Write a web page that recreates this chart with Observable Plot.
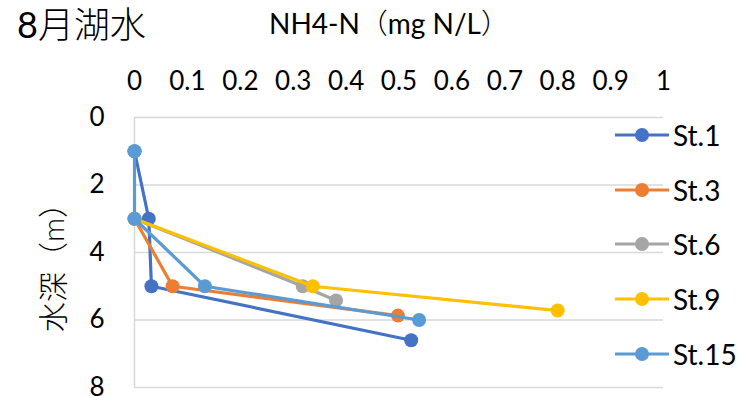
<!DOCTYPE html>
<html>
<head>
<meta charset="utf-8">
<script src="https://cdn.jsdelivr.net/npm/d3@7"></script>
<script src="https://cdn.jsdelivr.net/npm/@observablehq/plot@0.6"></script>
<style>
  html, body { margin: 0; padding: 0; background: #fff; }
  #chart { position: relative; width: 749px; height: 396px; overflow: hidden;
           font-family: Lato, "Noto Sans CJK JP", sans-serif; color: #000; }
  #chart svg { position: absolute; left: 0; top: 0; }
  .title { position: absolute; left: 17px; top: 6px; font-size: 36px; font-weight: 300; line-height: 1; white-space: nowrap; }
  .title .num { font-weight: 400; }
  .xlabel { position: absolute; left: 389px; top: 9px; transform: translateX(-50%); font-size: 28px; font-weight: 400; line-height: 1; white-space: nowrap; }
  .xlabel .cjk { font-weight: 300; }
  .ylabel { position: absolute; left: 52px; top: 260px; transform: translate(-50%, -50%) rotate(-90deg); font-size: 30px; font-weight: 300; line-height: 1; white-space: nowrap; }
  .legend { position: absolute; left: 614px; top: 0; }
  .legend .item { position: absolute; left: 0; height: 30px; display: flex; align-items: center; white-space: nowrap; font-size: 28px; }
  .legend svg { position: static !important; margin-right: 3px; }
</style>
</head>
<body>
<div id="chart">
  <div class="title"><span class="num">8</span>月湖水</div>
  <div class="xlabel">NH4-N<span class="cjk">（</span>mg N/L<span class="cjk">）</span></div>
  <div class="ylabel">水深（m）</div>
  <div class="legend" id="legend"></div>
</div>
<script>
// NH4-N concentration (mg N/L) by water depth (m) at each station
const stations = ["St.1", "St.3", "St.6", "St.9", "St.15"];
const colors = ["#4472C4", "#ED7D31", "#A5A5A5", "#FFC000", "#5B9BD5"];

const st1Depth = [1, 3, 5, 6.6];
const st1Value = [0, 0.027, 0.032, 0.523];
const st3Depth = [3, 5, 5.87];
const st3Value = [0, 0.072, 0.498];
const st6Depth = [3, 5, 5.42];
const st6Value = [0, 0.318, 0.381];
const st9Depth = [3, 5, 5.72];
const st9Value = [0, 0.337, 0.80];
const st15Depth = [1, 3, 5, 6.0];
const st15Value = [0, 0, 0.133, 0.538];

const xTicks = [0, 0.1, 0.2, 0.3, 0.4, 0.5, 0.6, 0.7, 0.8, 0.9, 1];
const xTickLabels = ["0", "0.1", "0.2", "0.3", "0.4", "0.5", "0.6", "0.7", "0.8", "0.9", "1"];
const yTicks = [0, 2, 4, 6, 8];

const depthSets = [st1Depth, st3Depth, st6Depth, st9Depth, st15Depth];
const valueSets = [st1Value, st3Value, st6Value, st9Value, st15Value];

const series = stations.map((name, i) => ({
  name,
  color: colors[i],
  rows: depthSets[i].map((d, j) => ({depth: d, value: valueSets[i][j]}))
}));

const gridColor = "#d9d9d9";

// each station: its line first, then its markers, drawn in station order
const seriesMarks = series.flatMap(s => [
  Plot.line(s.rows, {x: "value", y: "depth", stroke: s.color, strokeWidth: 3.2}),
  Plot.dot(s.rows, {x: "value", y: "depth", r: 7, fill: s.color, stroke: "none"})
]);

const chart = Plot.plot({
  width: 749,
  height: 396,
  marginLeft: 134,
  marginRight: 86,
  marginTop: 117,
  marginBottom: 9,
  style: {
    fontFamily: 'Lato, "Noto Sans CJK JP", sans-serif',
    fontSize: "26px",
    color: "#000",
    background: "transparent",
    overflow: "visible"
  },
  x: {
    domain: [0, 1],
    axis: "top",
    ticks: xTicks,
    tickFormat: (d, i) => xTickLabels[i],
    tickSize: 0,
    tickPadding: 28,
    label: null
  },
  y: {
    domain: [0, 8],
    reverse: true,
    ticks: yTicks,
    tickSize: 0,
    tickPadding: 30,
    label: null
  },
  marks: [
    Plot.gridY(yTicks, {stroke: gridColor, strokeOpacity: 1, strokeWidth: 1.6}),
    Plot.ruleX([0], {stroke: gridColor, strokeWidth: 1.6}),
    ...seriesMarks
  ]
});

document.getElementById("chart").insertBefore(chart, document.querySelector(".title"));

// legend on the right: line with marker, then station name
const legend = document.getElementById("legend");
const legendY = [135, 190, 244, 299, 354];
series.forEach((s, i) => {
  const item = document.createElement("div");
  item.className = "item";
  item.style.top = (legendY[i] - 15) + "px";
  item.innerHTML =
    `<svg width="56" height="20" viewBox="0 0 56 20">` +
    `<line x1="1" y1="10" x2="55" y2="10" stroke="${s.color}" stroke-width="3.2"/>` +
    `<circle cx="28" cy="10" r="7" fill="${s.color}"/></svg>` +
    `<span>${s.name}</span>`;
  legend.appendChild(item);
});
</script>
</body>
</html>
